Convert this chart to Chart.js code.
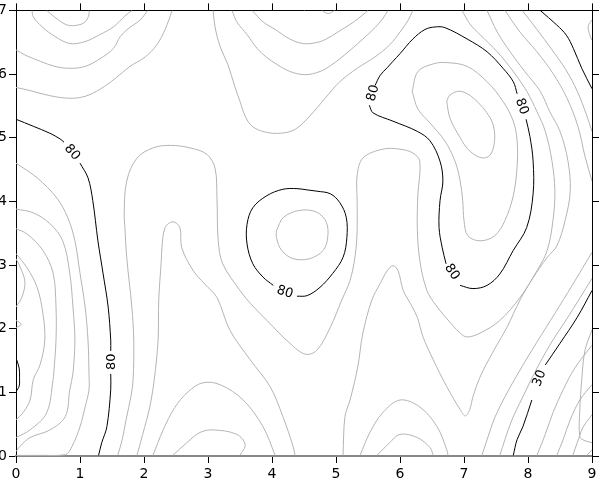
<!DOCTYPE html>
<html>
<head>
<meta charset="utf-8">
<script src="https://cdn.jsdelivr.net/npm/chart.js@4.4.1/dist/chart.umd.min.js"></script>
<style>
  html, body { margin: 0; padding: 0; background: #fff; }
</style>
</head>
<body>
<canvas id="contourChart" width="600" height="484"></canvas>
<script>
// axis ranges / ticks
const xTicks = [0, 1, 2, 3, 4, 5, 6, 7, 8, 9];
const yTicks = [0, 1, 2, 3, 4, 5, 6, 7];

// gray contour lines, [x, y] in data units (null = break)
const topLeft1 = [[0.48,7],[0.61,6.89],[0.80,6.77],[0.97,6.77],[1.08,6.82],[1.14,6.93],[1.14,7]];
const topLeft2 = [[0.25,7],[0.27,6.90],[0.41,6.74],[0.61,6.59],[0.84,6.48],[1.08,6.51],[1.31,6.62],[1.52,6.74],[1.70,6.91],[1.81,7]];
const topLeft3 = [[0,6.38],[0.14,6.30],[0.38,6.20],[0.61,6.12],[0.84,6.09],[1.08,6.12],[1.31,6.24],[1.52,6.40],[1.63,6.59],[1.75,6.71],[1.94,6.85],[2.06,7]];
const topLeft4 = [[0,5.79],[0.22,5.74],[0.53,5.66],[0.84,5.62],[1.08,5.65],[1.31,5.76],[1.55,5.93],[1.78,6.12],[2.02,6.27],[2.20,6.46],[2.33,6.70],[2.44,7]];
const topMid1 = [[3.08,7],[3.11,6.74],[3.19,6.43],[3.31,6.15],[3.42,5.80],[3.50,5.57],[3.58,5.34],[3.69,5.18],[3.89,5.09],[4.13,5.07],[4.36,5.13],[4.59,5.34],[4.83,5.62],[5.06,5.88],[5.33,6.09],[5.61,6.27],[5.84,6.46],[6.0,6.66],[6.13,6.85],[6.20,7]];
const topMid2 = [[3.375,7],[3.45,6.82],[3.61,6.62],[3.77,6.40],[3.92,6.26],[4.08,6.15],[4.28,6.04],[4.52,5.99],[4.75,6.04],[4.91,6.13],[5.06,6.24],[5.25,6.40],[5.42,6.55],[5.61,6.73],[5.73,6.87],[5.81,7]];
const topMid3 = [[3.69,7],[3.86,6.82],[4.05,6.70],[4.28,6.55],[4.48,6.48],[4.67,6.49],[4.83,6.54],[5.06,6.68],[5.25,6.80],[5.42,6.93],[5.5,7]];
const topMid4 = [[4.78,7],[4.88,6.95],[4.98,7]];

const tallLoop = [[1.59,0.01],[1.66,0.26],[1.72,0.57],[1.80,0.96],[1.83,1.20],[1.84,1.82],[1.81,2.34],[1.73,3.12],[1.70,3.62],[1.69,3.80],[1.73,4.32],[1.89,4.68],[2.14,4.84],[2.41,4.88],[2.72,4.84],[2.98,4.74],[3.11,4.52],[3.14,4.05],[3.16,3.38],[3.23,3.02],[3.5,2.60],[3.66,2.40],[3.92,2.13],[4.28,1.77],[4.52,1.60],[4.70,1.66],[4.91,2.02],[5.09,2.45],[5.22,2.76],[5.30,3.15],[5.33,3.54],[5.33,4.01],[5.33,4.40],[5.42,4.68],[5.73,4.82],[6.0,4.82],[6.20,4.76],[6.31,4.63],[6.28,4.12],[6.27,3.59],[6.31,3.07],[6.42,2.60],[6.56,2.37],[6.73,2.16],[6.94,1.93],[7.05,1.87],[7.25,1.93],[7.56,2.13],[7.875,2.49],[8.14,2.91],[8.30,3.23],[8.39,3.70],[8.42,4.16],[8.375,4.63],[8.27,5.10],[8.14,5.41],[7.98,5.73],[7.77,6.04],[7.52,6.35],[7.25,6.62],[7.09,6.79],[6.97,7.0]];
const innerHairpin = [[1.89,0.01],[1.98,0.34],[2.09,0.77],[2.16,1.20],[2.22,1.82],[2.23,2.45],[2.27,3.07],[2.28,3.27],[2.33,3.59],[2.45,3.68],[2.56,3.59],[2.59,3.27],[2.77,2.91],[2.95,2.70],[3.14,2.49],[3.34,1.98],[3.66,1.51],[3.97,1.09],[4.17,0.62],[4.33,0.15],[4.36,0.01]];
const centerInner = [[4.07,3.54],[4.18,3.75],[4.44,3.86],[4.70,3.83],[4.85,3.67],[4.87,3.43],[4.80,3.23],[4.59,3.10],[4.33,3.10],[4.15,3.23],[4.07,3.43],[4.07,3.54]];
const arch1 = [[5.375,0.01],[5.53,0.37],[5.73,0.68],[6.0,0.88],[6.31,0.77],[6.58,0.46],[6.73,0.10],[6.75,0.01]];
const arch2 = [[5.64,0.01],[5.84,0.21],[6.0,0.34],[6.27,0.29],[6.47,0.13],[6.52,0.01]];
const arch3 = [[2.14,0.01],[2.30,0.41],[2.48,0.76],[2.69,1.01],[2.92,1.15],[3.19,1.12],[3.55,0.88],[3.86,0.46],[4.05,0.01]];
const arch4 = [[2.45,0.01],[2.67,0.21],[2.875,0.37],[3.08,0.41],[3.45,0.34],[3.58,0.18],[3.5,0.01]];
const innerLoopTR = [[6.73,5.57],[6.78,5.67],[6.94,5.73],[7.15,5.62],[7.41,5.31],[7.48,5.05],[7.43,4.76],[7.30,4.68],[7.09,4.79],[6.94,5.0],[6.78,5.31],[6.73,5.57]];
const hairpinTR = [[6.19,5.73],[6.28,6.04],[6.52,6.16],[6.73,6.18],[7.05,6.12],[7.36,5.88],[7.61,5.57],[7.77,5.26],[7.83,4.95],[7.83,4.55],[7.77,4.09],[7.64,3.70],[7.48,3.46],[7.25,3.38],[7.06,3.46],[7.0,3.70],[6.98,4.01],[6.94,4.32],[6.86,4.63],[6.70,4.95],[6.47,5.23],[6.28,5.45],[6.19,5.73]];
const vLine = [[5.11,0.01],[5.14,0.62],[5.22,0.88],[5.34,1.40],[5.42,1.93],[5.56,2.45],[5.69,2.71],[5.80,2.91],[5.89,2.99],[5.97,2.91],[6.05,2.60],[6.16,2.40],[6.27,2.18],[6.36,1.87],[6.52,1.51],[6.73,1.09],[6.94,0.73],[7.02,0.63],[7.09,0.73],[7.14,0.93],[7.25,1.24],[7.45,1.63],[7.67,2.02],[7.875,2.45],[8.08,2.80],[8.30,3.12],[8.45,3.30],[8.58,3.70],[8.66,4.16],[8.625,4.63],[8.5,5.10],[8.34,5.41],[8.19,5.73],[7.95,6.04],[7.72,6.35],[7.52,6.66],[7.36,7.0]];
const rightTop1 = [[7.64,7],[7.875,6.66],[8.14,6.35],[8.39,6.01],[8.61,5.62],[8.78,5.18],[8.89,4.71],[9,4.32]];
const rightTop2 = [[7.91,7],[8.14,6.70],[8.375,6.38],[8.59,6.07],[8.77,5.73],[8.91,5.37],[9,5.10]];
const rightBot1 = [[7.28,0.01],[7.375,0.30],[7.48,0.60],[7.64,0.93],[7.875,1.35],[8.14,1.79],[8.42,2.24],[8.69,2.68],[9,3.20]];
const rightBot2 = [[7.56,0.01],[7.64,0.26],[7.75,0.57],[7.91,0.91],[8.11,1.32],[8.34,1.74],[8.61,2.16],[8.81,2.48],[9,2.79]];
const rightBot3 = [[8.14,0.01],[8.27,0.34],[8.39,0.68],[8.55,1.04],[8.73,1.38],[9,1.74]];
const rightBot4 = [[8.45,0.01],[8.55,0.26],[8.66,0.57],[8.81,0.88],[9,1.12]];
const rightBot5 = [[8.70,0.01],[8.77,0.21],[8.86,0.45],[9,0.65]];
const rightBot6 = [[9,1.98],[8.89,1.66],[8.84,1.20],[8.81,0.73],[8.81,0.30],[8.89,0.24],[9,0.21]];
const rightCorner = [[8.92,0.01],[9,0.10]];
const rightEdgeBump = [[9,6.85],[8.94,6.75],[8.97,6.6],[9,6.53]];
const left1 = [[0,4.60],[0.33,4.37],[0.64,4.05],[0.81,3.74],[0.92,3.38],[1.0,2.87],[1.08,2.34],[1.125,1.82],[1.14,1.30],[1.14,1.04],[1.08,0.77],[1.0,0.46],[0.875,0.15],[0.77,0.02],[0.375,0.01],[0,0.01]];
const left2 = [[0,3.88],[0.27,3.82],[0.53,3.65],[0.73,3.38],[0.84,2.87],[0.89,2.34],[0.92,1.82],[0.89,1.30],[0.84,1.04],[0.77,0.62],[0.53,0.41],[0.22,0.29],[0.06,0.15],[0,0.07]];
const left3 = [[0,3.57],[0.17,3.49],[0.42,3.23],[0.58,2.87],[0.625,2.34],[0.625,1.82],[0.59,1.30],[0.58,1.20],[0.48,0.68],[0.22,0.41],[0,0.29]];
const left4 = [[0,3.18],[0.17,2.96],[0.33,2.65],[0.42,2.24],[0.45,1.82],[0.375,1.43],[0.27,1.20],[0.22,0.88],[0.11,0.68],[0,0.57]];
const leftBump1 = [[0,3.10],[0.09,2.91],[0.14,2.72],[0.09,2.49],[0,2.34]];
const leftBump2 = [[0,2.13],[0.08,2.07],[0,2.01]];

// black (labelled) contour lines
const black80Left = [[0,5.29],[0.27,5.18],[0.53,5.07],[0.69,4.98],[0.75,4.93],null,[1.0,4.60],[1.125,4.37],[1.20,4.01],[1.28,3.38],[1.36,2.87],[1.44,2.34],[1.48,1.82],[1.48,1.65],null,[1.48,1.29],[1.48,1.04],[1.42,0.46],[1.34,0.21],[1.29,0.01]];
const black80Center = [[4.39,2.51],[4.55,2.52],[4.75,2.65],[4.95,2.87],[5.11,3.12],[5.17,3.43],[5.16,3.75],[5.06,3.98],[4.91,4.12],[4.70,4.16],[4.55,4.18],[4.39,4.20],[4.17,4.19],[3.92,4.09],[3.70,3.90],[3.61,3.64],[3.61,3.33],[3.70,3.02],[3.86,2.81],[4.02,2.68]];
const black80Right = [[5.61,5.82],[5.69,5.98],[5.80,6.10],[5.89,6.20],[6.0,6.32],[6.20,6.55],[6.39,6.70],[6.55,6.74],[6.70,6.73],[7.05,6.55],[7.36,6.35],[7.61,6.09],[7.77,5.88],[7.83,5.69],null,[7.97,5.29],[8.03,5.02],[8.08,4.63],[8.08,4.12],[7.98,3.59],[7.77,3.23],[7.56,2.86],[7.36,2.68],[7.14,2.63],[6.94,2.68],null,[6.72,3.02],[6.66,3.27],[6.61,3.59],[6.625,4.01],[6.67,4.32],[6.625,4.63],[6.47,4.95],[6.27,5.10],[5.89,5.26],[5.58,5.39],[5.52,5.51]];
const black80Corner = [[8.19,7],[8.45,6.77],[8.60,6.61],[8.71,6.40],[8.84,6.09],[9.0,5.77]];
const black80LeftEdge = [[0,1.54],[0.05,1.38],[0.055,1.23],[0.05,1.10],[0,1.01]];
const black30 = [[7.77,0.01],[7.83,0.26],[7.92,0.46],[8.06,0.88],null,[8.27,1.43],[8.5,1.77],[8.77,2.18],[9.0,2.60]];

// contour labels
const labelText  = ["80", "80", "80", "80", "80", "80", "30"];
const labelX     = [0.875, 1.49, 4.20, 5.58, 7.90, 6.81, 8.18];
const labelY     = [4.77, 1.48, 2.57, 5.70, 5.49, 2.89, 1.22];
const labelAngle = [50, -90, 18, -75, 71, 57, -69];

const grayLines = [topLeft1, topLeft2, topLeft3, topLeft4, topMid1, topMid2, topMid3, topMid4,
  tallLoop, innerHairpin, centerInner, arch1, arch2, arch3, arch4, innerLoopTR, hairpinTR, vLine,
  rightTop1, rightTop2, rightBot1, rightBot2, rightBot3, rightBot4, rightBot5, rightBot6, rightCorner,
  rightEdgeBump, left1, left2, left3, left4, leftBump1, leftBump2];
const blackLines = [black80Left, black80Center, black80Right, black80Corner, black80LeftEdge, black30];

// split a line at nulls into chart datasets
function toDatasets(line, color) {
  const out = [];
  let seg = [];
  line.concat([null]).forEach(p => {
    if (p === null) {
      if (seg.length) out.push(seg);
      seg = [];
    } else {
      seg.push({ x: p[0], y: p[1] });
    }
  });
  return out.map(d => ({
    data: d,
    showLine: true,
    borderColor: color,
    borderWidth: 1,
    pointRadius: 0,
    tension: 0.35,
  }));
}

let datasets = [];
grayLines.forEach(l => { datasets = datasets.concat(toDatasets(l, "#b4b4b4")); });
blackLines.forEach(l => { datasets = datasets.concat(toDatasets(l, "#000000")); });

const contourLabels = {
  id: "contourLabels",
  afterDatasetsDraw(chart) {
    const ctx = chart.ctx;
    const sx = chart.scales.x, sy = chart.scales.y;
    ctx.save();
    ctx.font = '13px "DejaVu Sans"';
    ctx.fillStyle = "#000";
    ctx.textAlign = "center";
    ctx.textBaseline = "middle";
    labelText.forEach((t, i) => {
      ctx.save();
      ctx.translate(sx.getPixelForValue(labelX[i]), sy.getPixelForValue(labelY[i]));
      ctx.rotate(labelAngle[i] * Math.PI / 180);
      ctx.fillText(t, 0, 0);
      ctx.restore();
    });
    ctx.restore();
  }
};

const tickFont = { family: "DejaVu Sans", size: 14 };

function frameAxis(position, min, max, size, labels, borderColor, borderWidth, pad) {
  const horiz = position === "top" || position === "bottom";
  return {
    type: "linear",
    position: position,
    min: min,
    max: max,
    afterBuildTicks: s => { s.ticks = (horiz ? xTicks : yTicks).map(v => ({ value: v })); },
    ticks: { display: labels, color: "#000", font: tickFont, padding: pad, maxRotation: 0, autoSkip: false },
    grid: { drawOnChartArea: false, drawTicks: true, tickLength: 7, color: "#000", lineWidth: 1 },
    border: { display: true, color: borderColor, width: borderWidth },
    afterFit: s => { if (horiz) s.height = size; else s.width = size; },
  };
}

new Chart(document.getElementById("contourChart"), {
  type: "scatter",
  data: { datasets: datasets },
  options: {
    responsive: false,
    animation: false,
    events: [],
    layout: { padding: 0 },
    plugins: { legend: { display: false }, tooltip: { enabled: false } },
    scales: {
      x: frameAxis("bottom", 0, 9, 28, true, "#888888", 2, 3),
      xTop: frameAxis("top", 0, 9, 9, false, "#000000", 1, 0),
      y: frameAxis("left", 0, 7, 16, true, "#000000", 1, 2),
      yRight: frameAxis("right", 0, 7, 8, false, "#000000", 1, 0),
    },
  },
  plugins: [contourLabels],
});
</script>
</body>
</html>
